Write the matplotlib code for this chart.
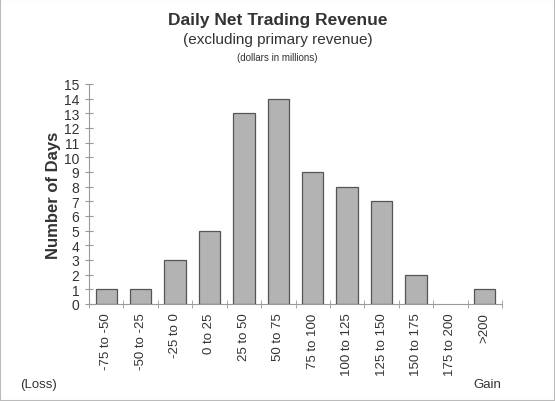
import matplotlib
matplotlib.use("Agg")
import matplotlib.pyplot as plt
from matplotlib.patches import Rectangle

categories = ["-75 to -50", "-50 to -25", "-25 to 0", "0 to 25", "25 to 50", "50 to 75",
              "75 to 100", "100 to 125", "125 to 150", "150 to 175", "175 to 200", ">200"]
days = [1, 1, 3, 5, 13, 14, 9, 8, 7, 2, 0, 1]
yticks = list(range(0, 16))

plt.rcParams['font.family'] = ['Liberation Sans', 'DejaVu Sans']
txt = '#333333'

fig = plt.figure(figsize=(5.55, 4.02), dpi=100)
fig.patches.append(Rectangle((0, 0), 1, 1, transform=fig.transFigure, fill=False,
                             edgecolor='#bbbbbb', linewidth=1.5))
ax = fig.add_axes([89/555, 1 - 305/402, 413/555, 220/402])

x = list(range(len(categories)))
bars = ax.bar(x, days, width=0.62, color='#b3b3b3', edgecolor='#555555', linewidth=0.9)
for b, v in zip(bars, days):
    if v == 0:
        b.set_linewidth(0)
ax.set_xlim(-0.5, len(categories) - 0.5)
ax.set_ylim(0, 15)
ax.set_yticks(yticks)
ax.set_yticklabels([str(v) for v in yticks], fontsize=10, color=txt)
ax.set_xticks(x)
ax.set_xticklabels(categories, rotation=90, fontsize=9.5, color=txt)
ax.tick_params(axis='x', which='major', length=0, pad=6)
ax.set_xticks([i + 0.5 for i in range(-1, len(categories))], minor=True)
ax.tick_params(axis='x', which='minor', length=6, direction='inout', color='#999999')
ax.tick_params(axis='y', length=6, direction='inout', color='#999999', pad=4)
for s in ['top', 'right']:
    ax.spines[s].set_visible(False)
for s in ['left', 'bottom']:
    ax.spines[s].set_color('#999999')
    ax.spines[s].set_linewidth(0.8)

ax.set_ylabel("Number of Days", fontsize=12, fontweight='bold', color=txt, labelpad=2)

fig.text(0.5, 1 - 20/402, "Daily Net Trading Revenue", ha='center', va='center',
         fontsize=12.5, fontweight='bold', color=txt)
fig.text(0.5, 1 - 40/402, "(excluding primary revenue)", ha='center', va='center',
         fontsize=11, color=txt)
fig.text(0.5, 1 - 58/402, "(dollars in millions)", ha='center', va='center',
         fontsize=7, color=txt)
fig.text(20/555, 1 - 385/402, "(Loss)", ha='left', va='center', fontsize=9.5, color=txt)
fig.text(501/555, 1 - 385/402, "Gain", ha='right', va='center', fontsize=9.5, color=txt)

fig.savefig("out.png", dpi=100)
